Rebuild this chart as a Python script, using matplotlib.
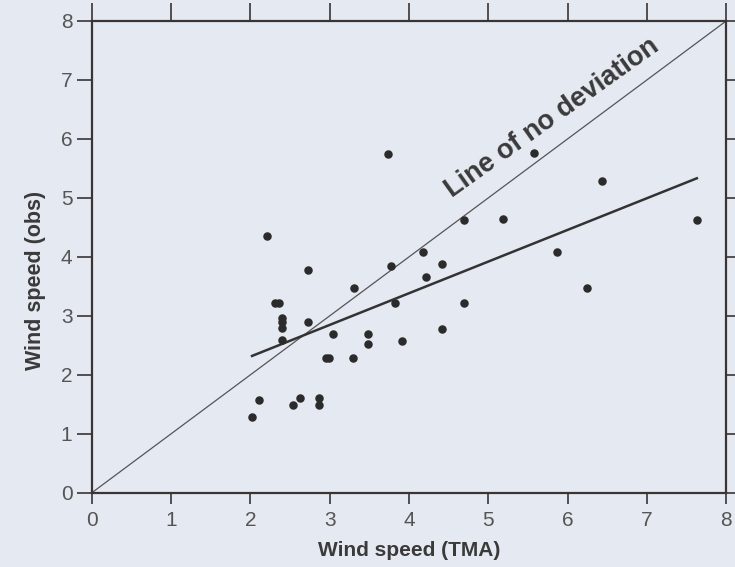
import matplotlib
matplotlib.use("Agg")
import matplotlib.pyplot as plt
import numpy as np

plt.rcParams['font.family'] = ['Liberation Sans', 'DejaVu Sans']

tma = [3.74, 2.21, 2.72, 3.31, 3.77, 4.18, 4.42, 4.22, 4.69, 4.69,
       3.82, 2.31, 2.36, 2.40, 2.40, 2.40, 2.40, 2.72, 3.04, 3.48,
       3.48, 3.91, 4.42, 2.95, 2.99, 3.29, 2.11, 2.02, 2.62, 2.54,
       2.86, 2.86, 5.57, 6.44, 5.18, 7.63, 5.86, 6.25]
obs = [5.75, 4.35, 3.78, 3.47, 3.84, 4.08, 3.88, 3.66, 4.62, 3.22,
       3.22, 3.22, 3.22, 2.97, 2.89, 2.79, 2.59, 2.90, 2.70, 2.70,
       2.52, 2.58, 2.78, 2.29, 2.29, 2.29, 1.58, 1.29, 1.61, 1.49,
       1.60, 1.49, 5.76, 5.28, 4.64, 4.62, 4.08, 3.47]

# fitted line as drawn in the figure
fit_slope = 0.537
fit_icpt = 1.235

ticks = [0, 1, 2, 3, 4, 5, 6, 7, 8]

bg = '#e5e9f1'
ink = '#3a3434'
fig = plt.figure(figsize=(7.35, 5.67), dpi=100, facecolor=bg)
ax = fig.add_axes([0.125, 0.131, 0.863, 0.832], facecolor=bg)

# line of no deviation
ax.plot([0, 8], [0, 8], color='#555555', lw=0.9)

# regression line, over the range of the data
xf = np.array([min(tma), max(tma)])
ax.plot(xf, fit_slope * xf + fit_icpt, color='#333333', lw=1.8)

ax.scatter(tma, obs, s=26, color='#2b2b2b', zorder=3)

ax.text(5.80, 6.36, 'Line of no deviation', rotation=35.5, fontsize=19.5,
        fontweight='bold', color='#3a3a3a', ha='center', va='center')

ax.set_xlim(0, 8)
ax.set_ylim(0, 8)
ax.set_xticks(ticks)
ax.set_yticks(ticks)
for s in ax.spines.values():
    s.set_linewidth(1.6)
    s.set_color(ink)

ax.tick_params(axis='both', direction='out', color=ink, width=1.2,
               labelsize=15, labelcolor='#555555')
ax.tick_params(axis='x', length=8, pad=5, top=True)
ax.tick_params(axis='y', length=11, pad=3, right=True)
ax.xaxis.set_tick_params(which='major', top=True, labeltop=False)
for t in ax.xaxis.get_major_ticks():
    t.tick2line.set_markersize(13)

ax.set_xlabel('Wind speed (TMA)', fontsize=15, fontweight='bold',
              color='#3a3a3a', labelpad=8)
ax.set_ylabel('Wind speed (obs)', fontsize=15.5, fontweight='bold',
              color='#3a3a3a')
ax.yaxis.set_label_coords(-0.073, 0.45)

plt.savefig('out.png', dpi=100, facecolor=bg)
